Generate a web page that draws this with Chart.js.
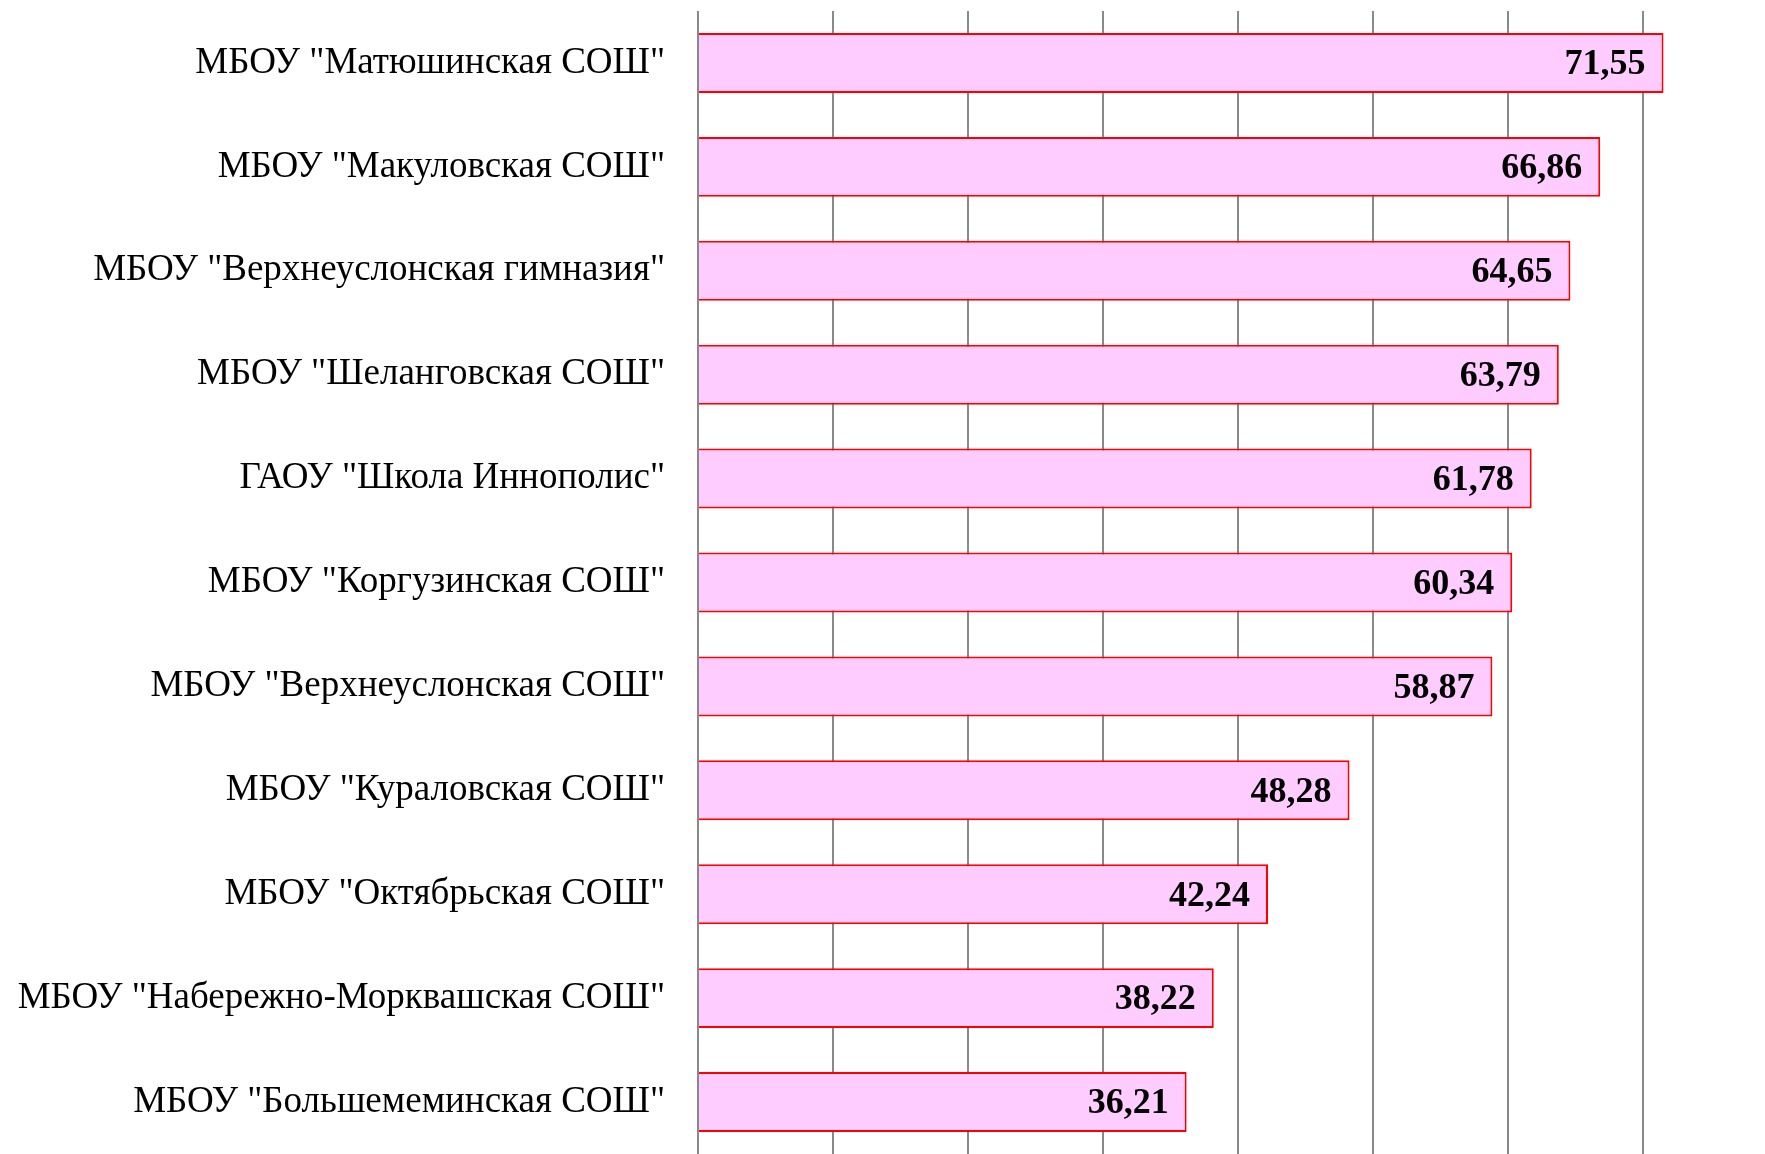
<!DOCTYPE html>
<html lang="ru">
<head>
  <meta charset="UTF-8">
  <title>Результаты</title>
  <script src="https://cdn.jsdelivr.net/npm/chart.js@4/dist/chart.umd.min.js"></script>
  <style>
    body {
      margin: 0;
      padding: 0;
      background-color: #ffffff;
    }
    #chartBox {
      width: 1765px;
      height: 1154px;
    }
  </style>
</head>
<body>
  <div id="chartBox">
    <canvas id="schoolChart" width="1765" height="1154"></canvas>
  </div>
  <script>
    const schools = [
      'МБОУ "Матюшинская СОШ"',
      'МБОУ "Макуловская СОШ"',
      'МБОУ "Верхнеуслонская гимназия"',
      'МБОУ "Шеланговская СОШ"',
      'ГАОУ "Школа Иннополис"',
      'МБОУ "Коргузинская СОШ"',
      'МБОУ "Верхнеуслонская СОШ"',
      'МБОУ "Кураловская СОШ"',
      'МБОУ "Октябрьская СОШ"',
      'МБОУ "Набережно-Морквашская СОШ"',
      'МБОУ "Большемеминская СОШ"'
    ];
    const scores = [71.55, 66.86, 64.65, 63.79, 61.78, 60.34, 58.87, 48.28, 42.24, 38.22, 36.21];
    const gridTicks = [0, 10, 20, 30, 40, 50, 60, 70];

    // value labels at the end of each bar
    const valueLabels = {
      id: 'valueLabels',
      afterDatasetsDraw(chart) {
        const ctx = chart.ctx;
        const meta = chart.getDatasetMeta(0);
        ctx.save();
        ctx.font = 'bold 36px "Liberation Serif", "Times New Roman", serif';
        ctx.fillStyle = '#000000';
        ctx.textAlign = 'right';
        ctx.textBaseline = 'middle';
        meta.data.forEach((bar, i) => {
          const txt = scores[i].toFixed(2).replace('.', ',');
          ctx.fillText(txt, bar.x - 18, bar.y + 2);
        });
        ctx.restore();
      }
    };

    new Chart(document.getElementById('schoolChart'), {
      type: 'bar',
      data: {
        labels: schools,
        datasets: [{
          data: scores,
          backgroundColor: '#FFCCFF',
          borderColor: '#FF0000',
          borderWidth: 2,
          categoryPercentage: 1,
          barPercentage: 0.577
        }]
      },
      options: {
        indexAxis: 'y',
        responsive: false,
        animation: false,
        layout: {
          padding: { top: 11, right: 0, bottom: -3, left: 0 }
        },
        plugins: {
          legend: { display: false },
          tooltip: { enabled: false }
        },
        scales: {
          x: {
            min: 0,
            max: 79.07,
            afterBuildTicks(axis) {
              axis.ticks = gridTicks.map(v => ({ value: v }));
            },
            afterFit(axis) {
              axis.height = 0;
              axis.paddingLeft = 0;
              axis.paddingRight = 0;
            },
            ticks: { display: false },
            border: { display: false },
            grid: {
              color: '#898989',
              lineWidth: 2,
              drawTicks: false
            }
          },
          y: {
            afterFit(axis) {
              axis.width = 698;
              axis.paddingTop = 0;
              axis.paddingBottom = 0;
            },
            border: { display: false },
            grid: { display: false, drawTicks: false },
            ticks: {
              padding: 33,
              color: '#000000',
              font: {
                family: '"Liberation Serif", "Times New Roman", serif',
                size: 37
              }
            }
          }
        }
      },
      plugins: [valueLabels]
    });
  </script>
</body>
</html>
